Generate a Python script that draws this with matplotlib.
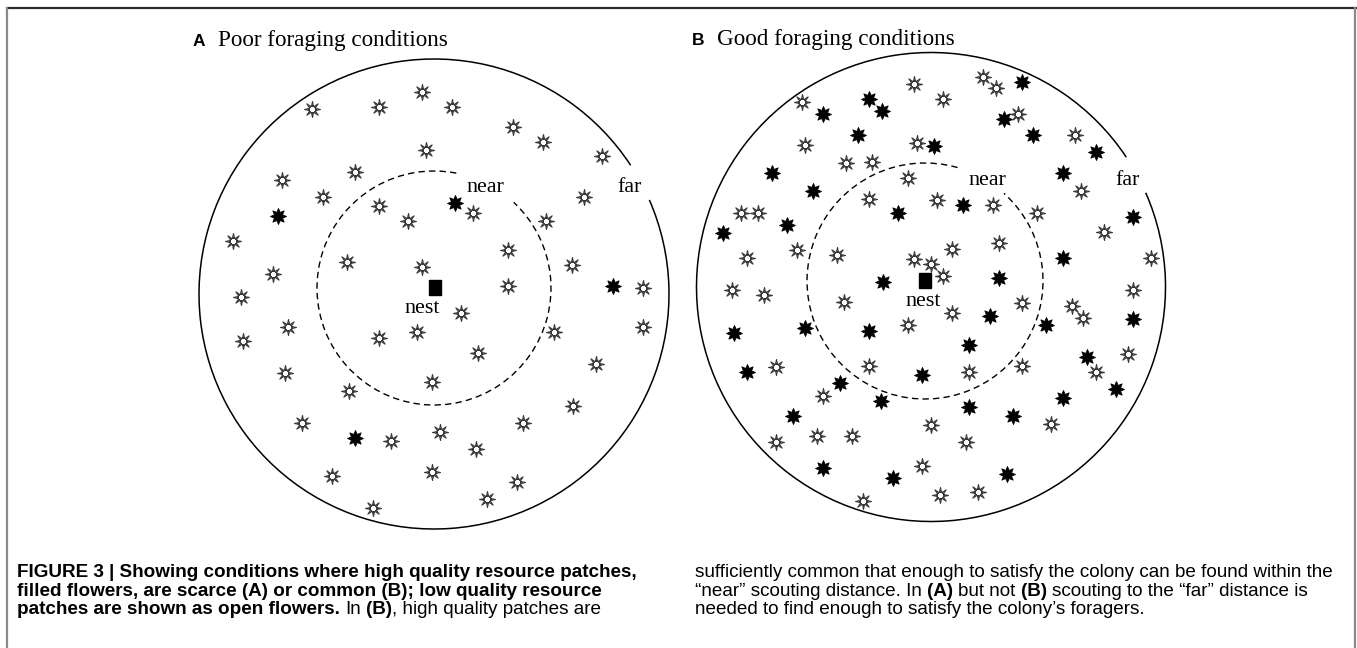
from __future__ import annotations

import matplotlib

matplotlib.use("Agg")
import matplotlib.pyplot as plt
import numpy as np
from matplotlib.lines import Line2D
from matplotlib.patches import Arc, Rectangle
from matplotlib.path import Path

W, H = 1357, 648

# flower patches, offsets from the centre of the "far" circle (px, y up)
A_OPEN_X = [-122, -55, -12, 18, 79, 109, 168, -8, -79, -152, -111, -55, -26, 39, 150, 112,
            -201, 74, -87, -161, -12, 138, 74, 209, -193, 27, -146, -191, -55, -17, 120, 209,
            44, -149, 162, -2, -85, 139, -132, 89, -43, 6, 42, -102, -2, 83, 53, -61]
A_OPEN_Y = [185, 187, 202, 187, 167, 152, 138, 144, 122, 114, 97, 88, 73, 81, 97, 73,
            53, 44, 32, 20, 27, 29, 8, 6, -3, -19, -33, -47, -44, -38, -38, -33,
            -59, -79, -70, -88, -97, -112, -129, -129, -147, -138, -155, -182, -178, -188, -205, -214]
A_FILLED_X = [-156, 21, 179, -79]
A_FILLED_Y = [78, 91, 8, -144]

B_OPEN_X = [-17, 12, 52, 65, -129, 87, 144, -126, -14, -85, -59, -23, 150, -62, 6, 62,
            -190, -173, 106, 173, -184, -134, -94, 21, 68, 220, -17, 0, 12, -199, -167, -87,
            202, 91, 141, 152, 21, -23, -155, -62, 38, 91, 197, 165, -108, 0, 120, -155,
            -114, -79, 35, -9, 9, 47, -68]
B_OPEN_Y = [203, 188, 210, 199, 185, 173, 152, 142, 144, 124, 125, 109, 96, 88, 87, 82,
            74, 74, 74, 55, 29, 37, 32, 38, 44, 29, 28, 23, 11, -3, -8, -15,
            -3, -16, -19, -31, -26, -38, -80, -79, -85, -79, -67, -85, -109, -138, -137, -155,
            -149, -149, -155, -179, -208, -205, -214]
B_FILLED_X = [91, -62, -49, -108, 73, -73, 102, 3, 165, -159, 132, -118, 32, -33, -144, -208,
              202, 132, -48, 68, 59, 202, 115, -126, -62, -197, 38, 156, -184, -9, -91, 185,
              -50, 132, 38, -138, 82, -108, -38, 76]
B_FILLED_Y = [205, 188, 176, 173, 168, 152, 152, 141, 135, 114, 114, 96, 82, 74, 62, 54,
              70, 29, 5, 9, -29, -32, -38, -41, -44, -46, -58, -70, -85, -88, -96, -102,
              -114, -111, -120, -129, -129, -181, -191, -187]

TITLE_LETTERS = ["A", "B"]
TITLES = ["Poor foraging conditions", "Good foraging conditions"]

CAPTION_LEFT = [
    [("FIGURE 3 | Showing conditions where high quality resource patches,", True, False)],
    [("filled flowers, are scarce (A) or common (B); low quality resource", True, False)],
    [("patches are shown as open flowers.", True, False), ("In", False, True),
     ("(B)", True, True), (", high quality patches are", False, False)],
]
CAPTION_RIGHT = [
    [("sufficiently common that enough to satisfy the colony can be found within the", False, False)],
    [("\u201cnear\u201d scouting distance. In", False, False), ("(A)", True, True),
     ("but not", False, True), ("(B)", True, True),
     ("scouting to the \u201cfar\u201d distance is", False, True)],
    [("needed to find enough to satisfy the colony\u2019s foragers.", False, False)],
]

SERIF = ["Liberation Serif", "DejaVu Serif"]
SANS = ["Liberation Sans", "DejaVu Sans"]


def _open_flower() -> Path:
    parts = [Path.circle((0, 0), 0.42)]
    for k in range(8):
        a = np.pi / 2 + k * np.pi / 4
        d = np.radians(15)
        verts = [(0.45 * np.cos(a - d), 0.45 * np.sin(a - d)),
                 (np.cos(a), np.sin(a)),
                 (0.45 * np.cos(a + d), 0.45 * np.sin(a + d)),
                 (0.45 * np.cos(a - d), 0.45 * np.sin(a - d))]
        parts.append(Path(verts, [Path.MOVETO, Path.LINETO, Path.LINETO, Path.CLOSEPOLY]))
    return Path.make_compound_path(*parts)


def _filled_flower() -> Path:
    star = Path.unit_regular_star(8, 0.55)
    return Path(star.vertices, star.codes)


def _panel(fig, cx, cy, open_xy, filled_xy, near_c, near_r, near_gap, far_r, far_gap,
           nest_c, near_lbl, far_lbl, nest_lbl):
    half = 245
    ax = fig.add_axes([(cx - half) / W, 1 - (cy + half) / H, 2 * half / W, 2 * half / H])
    ax.set_xlim(-half, half)
    ax.set_ylim(-half, half)
    ax.axis("off")
    ax.patch.set_alpha(0)

    ax.add_patch(Arc((0, 0), 2 * far_r, 2 * far_r, theta1=far_gap[1], theta2=far_gap[0] + 360,
                     color="black", lw=1.1))
    ax.add_patch(Arc(near_c, 2 * near_r, 2 * near_r, theta1=near_gap[1], theta2=near_gap[0] + 360,
                     color="black", lw=1.0, linestyle=(0, (4.6, 3.0))))

    ax.plot(*open_xy, ls="none", marker=_open_flower(), ms=11.5, mfc="white",
            mec="#3a3a3a", mew=0.8, clip_on=False)
    ax.plot(*filled_xy, ls="none", marker=_filled_flower(), ms=11.5, mfc="black",
            mec="black", mew=0.6, clip_on=False)

    ax.add_patch(Rectangle((nest_c[0] - 6, nest_c[1] - 7.5), 12, 15, color="black"))
    for (x, y), txt in ((near_lbl, "near"), (far_lbl, "far"), (nest_lbl, "nest")):
        ax.text(x, y, txt, ha="center", va="baseline", fontsize=15.8, family=SERIF)


def _runs(ax, renderer, x, y, runs, size):
    probe = ax.text(0, 0, "x x", fontsize=size, family=SANS)
    probe2 = ax.text(0, 0, "xx", fontsize=size, family=SANS)
    space = probe.get_window_extent(renderer).width - probe2.get_window_extent(renderer).width
    probe.remove()
    probe2.remove()
    for txt, bold, gap in runs:
        if gap:
            x += space
        t = ax.text(x, y, txt, fontsize=size, family=SANS, va="baseline",
                    fontweight="bold" if bold else "normal")
        x += t.get_window_extent(renderer).width


def main() -> None:
    plt.rcParams["lines.scale_dashes"] = False
    fig = plt.figure(figsize=(W / 100, H / 100), dpi=100)
    bg = fig.add_axes([0, 0, 1, 1])
    bg.set_xlim(0, W)
    bg.set_ylim(H, 0)
    bg.axis("off")

    bg.add_line(Line2D([7, W], [8, 8], color="#2a2a2a", lw=1.6))
    bg.add_line(Line2D([7, 7], [8, H], color="#8a8a8a", lw=1.6))
    bg.add_line(Line2D([1355, 1355], [8, H], color="#8a8a8a", lw=1.6))

    _panel(fig, 434, 294, (A_OPEN_X, A_OPEN_Y), (A_FILLED_X, A_FILLED_Y),
           (0, 6), 117, (47, 79), 235, (23.6, 33.2), (1, 7),
           (51, 102), (196, 102), (-12, -19))
    _panel(fig, 931, 287, (B_OPEN_X, B_OPEN_Y), (B_FILLED_X, B_FILLED_Y),
           (-6, 6), 118, (48, 74), 234.5, (23.7, 33.6), (-6, 7),
           (56, 102), (197, 102), (-8, -19))

    for x_letter, x_title, y, letter, title in ((193, 218, 46, TITLE_LETTERS[0], TITLES[0]),
                                                (692, 717, 45, TITLE_LETTERS[1], TITLES[1])):
        bg.text(x_letter, y, letter, fontsize=12.5, fontweight="bold", family=SANS, va="baseline")
        bg.text(x_title, y, title, fontsize=16.7, family=SERIF, va="baseline")

    renderer = fig.canvas.get_renderer()
    for i, runs in enumerate(CAPTION_LEFT):
        _runs(bg, renderer, 17, 577 + 18.5 * i, runs, 13.6)
    for i, runs in enumerate(CAPTION_RIGHT):
        _runs(bg, renderer, 695, 577 + 18.5 * i, runs, 13.6)

    fig.savefig("out.png", dpi=100, facecolor="white")
    plt.close(fig)


if __name__ == "__main__":
    main()
